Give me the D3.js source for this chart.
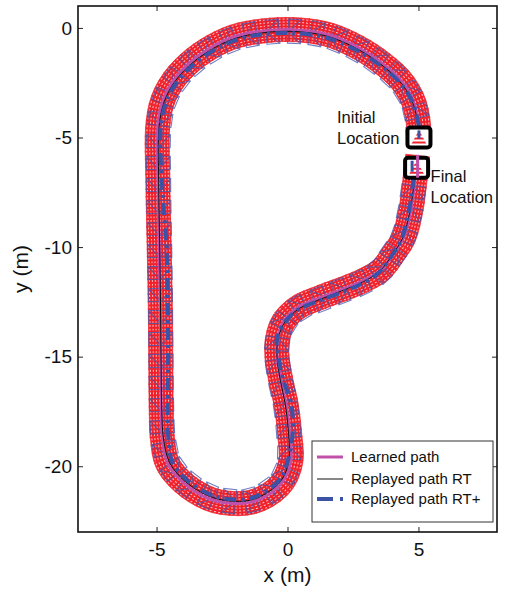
<!DOCTYPE html>
<html><head><meta charset="utf-8">
<script src="https://cdn.jsdelivr.net/npm/d3@7"></script>
<style>
body{margin:0;background:#fff;}
svg{display:block;font-family:"Liberation Sans",Arial,Helvetica,sans-serif;}
</style></head><body>
<svg id="chart" width="517" height="593"></svg>
<script>
// Axis ticks
const xTicks = [-5, 0, 5];
const yTicks = [0, -5, -10, -15, -20];

// Learned path (m)
const learnedX = [5.02,4.98,4.79,4.33,3.56,2.68,1.54,0.24,-1.02,-2.09,-3.04,-3.81,-4.38,-4.76,-4.95,-4.95,-4.9,-4.86,-4.84,-4.82,-4.78,-4.58,-3.96,-3.04,-2.28,-1.4,-0.64,-0.14,0.13,0.08,-0.05,-0.25,-0.4,-0.38,-0.15,0.4,1.27,2.3,2.92,3.56,4.06,4.44,4.71,4.82,4.97];
const learnedY = [-5.0,-4.2,-3.3,-2.39,-1.56,-0.88,-0.3,-0.08,-0.15,-0.42,-0.97,-1.66,-2.43,-3.3,-4.44,-7.0,-10.0,-12.5,-15.0,-17.5,-18.7,-19.87,-20.77,-21.46,-21.68,-21.64,-21.23,-20.63,-19.72,-18.5,-17.2,-16.1,-15.0,-14.2,-13.4,-12.75,-12.29,-11.83,-11.51,-11.05,-10.28,-9.55,-8.32,-7.41,-5.85];

// Replayed path RT (m)
const rtX = [5.0,4.95,4.75,4.28,3.52,2.65,1.52,0.24,-1.0,-2.05,-2.98,-3.75,-4.32,-4.7,-4.9,-4.92,-4.88,-4.85,-4.83,-4.8,-4.74,-4.5,-3.9,-3.0,-2.26,-1.42,-0.7,-0.2,0.06,0.04,-0.08,-0.27,-0.4,-0.36,-0.1,0.45,1.3,2.28,2.9,3.52,4.02,4.4,4.68,4.8,4.93];
const rtY = [-5.0,-4.2,-3.32,-2.43,-1.62,-0.95,-0.38,-0.16,-0.23,-0.5,-1.04,-1.72,-2.48,-3.34,-4.46,-7.0,-10.0,-12.5,-15.0,-17.5,-18.7,-19.84,-20.7,-21.36,-21.58,-21.55,-21.15,-20.58,-19.7,-18.5,-17.2,-16.1,-15.0,-14.2,-13.42,-12.8,-12.36,-11.9,-11.58,-11.1,-10.32,-9.58,-8.34,-7.42,-6.4];

// Replayed path RT+ (m)
const rtpX = [5.02,4.96,4.74,4.25,3.48,2.6,1.48,0.22,-0.98,-2.0,-2.93,-3.7,-4.26,-4.64,-4.84,-4.8,-4.62,-4.58,-4.56,-4.58,-4.55,-4.4,-3.85,-2.98,-2.25,-1.45,-0.76,-0.26,0.02,0.2,0.15,-0.15,-0.35,-0.4,-0.12,0.42,1.28,2.26,2.88,3.5,4.0,4.37,4.64,4.76,4.85];
const rtpY = [-4.5,-4.15,-3.3,-2.45,-1.66,-1.0,-0.45,-0.24,-0.3,-0.57,-1.1,-1.78,-2.54,-3.4,-4.5,-7.0,-10.0,-12.5,-15.0,-17.5,-18.7,-19.8,-20.62,-21.28,-21.5,-21.48,-21.1,-20.55,-19.7,-18.5,-17.2,-16.1,-15.0,-14.2,-13.45,-12.85,-12.42,-11.98,-11.64,-11.15,-10.36,-9.6,-8.35,-7.42,-6.6];

const seriesNames = ["Learned path", "Replayed path RT", "Replayed path RT+"];
const seriesColors = ["#c050aa", "#111111", "#3b53a6"];

// Start / end locations (m)
const markerX = [5.02, 4.93];
const markerY = [-5.0, -6.38];
const markerLabels = [["Initial", "Location"], ["Final", "Location"]];

const svg = d3.select("#chart");
const x = d3.scaleLinear().domain([-8, 8]).range([78, 497]);
const y = d3.scaleLinear().domain([-23, 1]).range([532, 6]);

const defs = svg.append("defs");
// dotted red fill of the robot footprints
const hatch = defs.append("pattern").attr("id", "hatch").attr("patternUnits", "userSpaceOnUse")
  .attr("width", 4).attr("height", 3);
hatch.append("rect").attr("width", 4).attr("height", 3).attr("fill", "#f21f29");
hatch.append("rect").attr("x", 1).attr("y", 1).attr("width", 2).attr("height", 1).attr("fill", "#fff").attr("opacity", 0.75);
// striped fill of the location markers
const stripes = defs.append("pattern").attr("id", "stripes").attr("patternUnits", "userSpaceOnUse")
  .attr("width", 4).attr("height", 4);
stripes.append("rect").attr("width", 4).attr("height", 4).attr("fill", "#fff");
stripes.append("rect").attr("width", 4).attr("height", 2).attr("fill", "#f0222c");
defs.append("clipPath").attr("id", "plotclip").append("rect")
  .attr("x", x(-8)).attr("y", y(1)).attr("width", x(8) - x(-8)).attr("height", y(-23) - y(1));

const toPts = (xs, ys) => xs.map((v, i) => [v, ys[i]]);
const line = d3.line().x(d => x(d[0])).y(d => y(d[1])).curve(d3.curveCatmullRom.alpha(0.5));

const plot = svg.append("g").attr("clip-path", "url(#plotclip)");

// sample a path at even spacing for the footprints
function sample(pts, step, offset) {
  const tmp = svg.append("path").attr("d", line(pts)).attr("fill", "none");
  const node = tmp.node();
  const L = node.getTotalLength();
  const out = d3.range(offset || 0, L, step).map(l => {
    const a = node.getPointAtLength(Math.max(0, l - 2));
    const b = node.getPointAtLength(Math.min(L, l + 2));
    const p = node.getPointAtLength(l);
    return { x: p.x, y: p.y, ang: Math.atan2(b.y - a.y, b.x - a.x) * 180 / Math.PI };
  });
  tmp.remove();
  return out;
}

const fps = sample(toPts(learnedX, learnedY), 7.5);

// red footprints
plot.append("g").selectAll("rect").data(fps).join("rect")
  .attr("x", -4.5).attr("y", -12).attr("width", 9).attr("height", 24)
  .attr("transform", d => `translate(${d.x},${d.y}) rotate(${d.ang})`)
  .attr("fill", "url(#hatch)").attr("stroke", "#f0303a").attr("stroke-width", 0.8);

// blue footprints of the replayed runs
const fpsB = sample(toPts(rtX, rtY), 22, 4);
const gB = plot.append("g").attr("fill", "none").attr("stroke", "#4256b0").attr("stroke-width", 1.1).attr("opacity", 0.75);
gB.selectAll("g").data(fpsB).join("g")
  .attr("transform", d => `translate(${d.x},${d.y}) rotate(${d.ang})`)
  .each(function () {
    const s = d3.select(this);
    s.append("rect").attr("x", -6.5).attr("y", -12).attr("width", 13).attr("height", 24);
    s.append("path").attr("d", "M-6.5,-12L6.5,0L-6.5,12");
  });

// paths
plot.append("path").attr("d", line(toPts(learnedX, learnedY))).attr("fill", "none")
  .attr("stroke", seriesColors[0]).attr("stroke-width", 3);
plot.append("path").attr("d", line(toPts(rtX, rtY))).attr("fill", "none")
  .attr("stroke", seriesColors[1]).attr("stroke-width", 1);
plot.append("path").attr("d", line(toPts(rtpX, rtpY))).attr("fill", "none")
  .attr("stroke", seriesColors[2]).attr("stroke-width", 4).attr("stroke-dasharray", "12,5,3,5");

// location markers
markerX.forEach((mx, i) => {
  const g = svg.append("g").attr("transform", `translate(${x(mx)},${y(markerY[i])})`);
  g.append("rect").attr("x", -11.5).attr("y", -10).attr("width", 23).attr("height", 20).attr("rx", 3)
    .attr("fill", "#fff").attr("stroke", "#000").attr("stroke-width", 4);
  g.append("path").attr("d", "M0,-7.5L8,7.5L-8,7.5Z").attr("fill", "url(#stripes)");
  g.append("line").attr("x1", i ? -4.5 : 0).attr("x2", i ? -4.5 : 0).attr("y1", -7).attr("y2", i ? 4 : 1)
    .attr("stroke", seriesColors[2]).attr("stroke-width", 3);
  if (i) g.append("line").attr("x1", 1).attr("x2", 1).attr("y1", -13).attr("y2", 10)
    .attr("stroke", seriesColors[0]).attr("stroke-width", 3);
  const t = g.append("text").attr("font-size", 16.5).attr("fill", "#111");
  if (i === 0) {
    t.append("tspan").attr("x", -82).attr("y", -15).text(markerLabels[i][0]);
    t.append("tspan").attr("x", -82).attr("y", 6).text(markerLabels[i][1]);
  } else {
    t.append("tspan").attr("x", 14).attr("y", 14).text(markerLabels[i][0]);
    t.append("tspan").attr("x", 14).attr("y", 35).text(markerLabels[i][1]);
  }
});

// axes (ticks pointing inward on all sides)
const fmt = d => String(d);
const axisStyle = g => {
  g.select(".domain").remove();
  g.selectAll("line").attr("stroke", "#222").attr("stroke-width", 1);
  g.selectAll("text").attr("font-size", 19).attr("fill", "#111").attr("font-family", null);
};
svg.append("g").attr("transform", `translate(0,${y(-23)})`)
  .call(d3.axisBottom(x).tickValues(xTicks).tickFormat(fmt).tickSize(-5).tickPadding(11)).call(axisStyle);
svg.append("g").attr("transform", `translate(0,${y(1)})`)
  .call(d3.axisTop(x).tickValues(xTicks).tickSize(-5).tickFormat("")).call(axisStyle);
svg.append("g").attr("transform", `translate(${x(-8)},0)`)
  .call(d3.axisLeft(y).tickValues(yTicks).tickFormat(fmt).tickSize(-5).tickPadding(6)).call(axisStyle);
svg.append("g").attr("transform", `translate(${x(8)},0)`)
  .call(d3.axisRight(y).tickValues(yTicks).tickSize(-5).tickFormat("")).call(axisStyle);
svg.append("rect").attr("x", x(-8)).attr("y", y(1)).attr("width", x(8) - x(-8)).attr("height", y(-23) - y(1))
  .attr("fill", "none").attr("stroke", "#111").attr("stroke-width", 1.6);

// axis titles
svg.append("text").attr("x", x(0)).attr("y", 582).attr("text-anchor", "middle")
  .attr("font-size", 21).attr("fill", "#111").text("x (m)");
svg.append("text").attr("transform", `translate(28,${y(-11)}) rotate(-90)`).attr("text-anchor", "middle")
  .attr("font-size", 21).attr("fill", "#111").text("y (m)");

// legend
const lg = svg.append("g").attr("transform", "translate(312,441)");
lg.append("rect").attr("width", 181).attr("height", 81).attr("fill", "#fff").attr("stroke", "#333").attr("stroke-width", 1);
const rows = [16, 38, 58];
seriesNames.forEach((name, i) => {
  const r = lg.append("g").attr("transform", `translate(0,${rows[i]})`);
  r.append("line").attr("x1", 5).attr("x2", 31).attr("stroke", seriesColors[i])
    .attr("stroke-width", [3, 1, 4][i]).attr("stroke-dasharray", i === 2 ? "16,7,3,50" : null);
  r.append("text").attr("x", 39).attr("dy", "0.35em").attr("font-size", 15).attr("fill", "#111").text(name);
});
</script>
</body></html>
